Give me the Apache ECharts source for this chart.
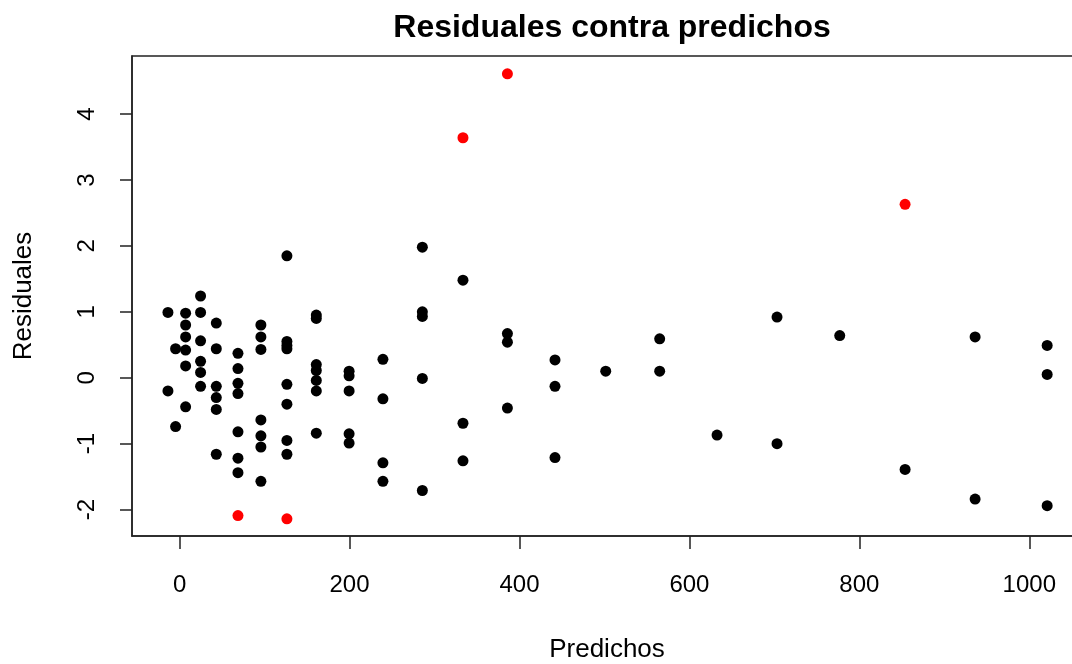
<!DOCTYPE html>
<html>
<head>
<meta charset="utf-8">
<title>Residuales contra predichos</title>
<script src="https://cdn.jsdelivr.net/npm/echarts@6/dist/echarts.min.js"></script>
<style>
  html, body { margin: 0; padding: 0; background: #ffffff; }
  #chart { width: 1072px; height: 664px; }
</style>
</head>
<body>
<div id="chart"></div>
<script>
// Valores predichos y residuales de las observaciones habituales
var predichos = [
  -13.7, -13.7,
  -4.7, -4.7,
  7.1, 7.1, 7.1, 7.1, 7.1, 7.1,
  24.7, 24.7, 24.7, 24.7, 24.7, 24.7,
  43.2, 43.2, 43.2, 43.2, 43.2, 43.2,
  68.7, 68.7, 68.7, 68.7, 68.7, 68.7, 68.7,
  95.7, 95.7, 95.7, 95.7, 95.7, 95.7, 95.7,
  126.3, 126.3, 126.3, 126.3, 126.3, 126.3, 126.3, 126.3,
  160.9, 160.9, 160.9, 160.9, 160.9, 160.9, 160.9,
  199.5, 199.5, 199.5, 199.5, 199.5,
  239.3, 239.3, 239.3, 239.3,
  285.7, 285.7, 285.7, 285.7, 285.7,
  333.5, 333.5, 333.5,
  385.8, 385.8, 385.8,
  441.8, 441.8, 441.8,
  501.5,
  565.0, 565.0,
  632.5,
  703.1, 703.1,
  776.9,
  853.8,
  936.2, 936.2,
  1021.0, 1021.0, 1021.0
];
var residuales = [
  0.99, -0.20,
  0.44, -0.74,
  0.98, 0.80, 0.62, 0.42, 0.18, -0.44,
  1.24, 0.99, 0.56, 0.25, 0.08, -0.13,
  0.83, 0.44, -0.13, -0.30, -0.48, -1.16,
  0.37, 0.14, -0.085, -0.24, -0.82, -1.22, -1.44,
  0.80, 0.62, 0.43, -0.64, -0.88, -1.05, -1.57,
  1.85, 0.55, 0.49, 0.44, -0.10, -0.40, -0.95, -1.16,
  0.95, 0.90, 0.20, 0.11, -0.04, -0.20, -0.84,
  0.10, 0.03, -0.20, -0.85, -0.99,
  0.28, -0.32, -1.29, -1.57,
  1.98, 1.00, 0.93, -0.01, -1.71,
  1.48, -0.69, -1.26,
  0.67, 0.54, -0.46,
  0.27, -0.13, -1.21,
  0.10,
  0.59, 0.10,
  -0.87,
  0.92, -1.00,
  0.64,
  -1.39,
  0.62, -1.84,
  0.49, 0.05, -1.94
];

// Observaciones con residual grande (resaltadas en rojo)
var predichosAtipicos = [68.7, 126.3, 333.5, 385.8, 853.8];
var residualesAtipicos = [-2.09, -2.14, 3.64, 4.61, 2.63];

// Marcas de los ejes
var ticksX = [0, 200, 400, 600, 800, 1000];
var ticksY = [-2, -1, 0, 1, 2, 3, 4];

function pares(xs, ys) {
  return xs.map(function (x, i) { return [x, ys[i]]; });
}

var fuente = '"Liberation Sans", Arial, sans-serif';

var chart = echarts.init(document.getElementById('chart'), null, { renderer: 'canvas' });

chart.setOption({
  backgroundColor: '#ffffff',
  animation: false,
  title: {
    text: 'Residuales contra predichos',
    left: 607,
    top: 7,
    textAlign: 'center',
    textStyle: { fontFamily: fuente, fontSize: 32, fontWeight: 'bold', color: '#000' }
  },
  // el área de trazado continúa más allá del borde derecho del lienzo
  grid: {
    left: 132,
    top: 56,
    width: 950,
    height: 480,
    containLabel: false,
    outerBoundsMode: 'none',
    show: true,
    borderColor: '#222',
    borderWidth: 1.5,
    backgroundColor: 'transparent'
  },
  xAxis: {
    type: 'value',
    min: -56,
    max: 1062,
    name: 'Predichos',
    nameLocation: 'middle',
    nameGap: 101,
    nameTextStyle: { fontFamily: fuente, fontSize: 26, color: '#000', verticalAlign: 'top' },
    axisLine: { show: true, onZero: false, lineStyle: { color: '#222', width: 1.5 } },
    axisTick: { show: true, length: 13, customValues: ticksX, lineStyle: { color: '#222', width: 1.5 } },
    axisLabel: {
      customValues: ticksX, margin: 37, fontFamily: fuente, fontSize: 24, color: '#000',
      formatter: function (v) { return String(v); }
    },
    splitLine: { show: false }
  },
  yAxis: {
    type: 'value',
    min: -2.4,
    max: 4.88,
    name: 'Residuales',
    nameLocation: 'middle',
    nameRotate: 90,
    nameGap: 95,
    nameTextStyle: { fontFamily: fuente, fontSize: 26, color: '#000' },
    axisLine: { show: true, onZero: false, lineStyle: { color: '#222', width: 1.5 } },
    axisTick: { show: true, length: 12, customValues: ticksY, lineStyle: { color: '#222', width: 1.5 } },
    axisLabel: {
      customValues: ticksY, rotate: 90, margin: 33, fontFamily: fuente, fontSize: 24, color: '#000',
      formatter: function (v) { return String(v); }
    },
    splitLine: { show: false }
  },
  series: [
    {
      name: 'Residuales',
      type: 'scatter',
      symbol: 'circle',
      symbolSize: 11,
      itemStyle: { color: '#000000', opacity: 1 },
      data: pares(predichos, residuales)
    },
    {
      name: 'Atípicos',
      type: 'scatter',
      symbol: 'circle',
      symbolSize: 11,
      itemStyle: { color: '#ff0000', opacity: 1 },
      data: pares(predichosAtipicos, residualesAtipicos)
    }
  ]
});
</script>
</body>
</html>
